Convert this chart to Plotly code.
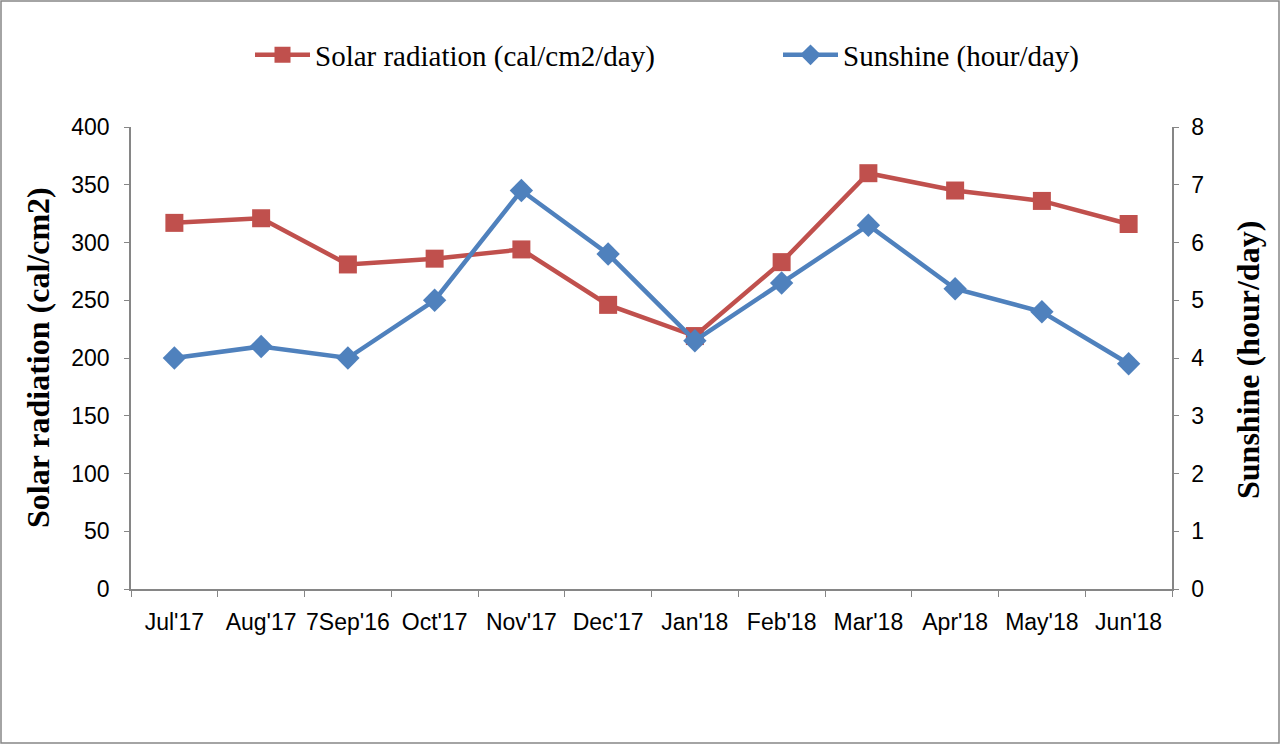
import plotly.graph_objects as go

months = ["Jul'17", "Aug'17", "7Sep'16", "Oct'17", "Nov'17", "Dec'17",
          "Jan'18", "Feb'18", "Mar'18", "Apr'18", "May'18", "Jun'18"]
solar_radiation = [317, 321, 281, 286, 294, 246, 219, 283, 360, 345, 336, 316]
sunshine = [4.0, 4.2, 4.0, 5.0, 6.9, 5.8, 4.3, 5.3, 6.3, 5.2, 4.8, 3.9]

RED = "#C0504D"
BLUE = "#4F81BD"
AXIS = "#868686"
TICKFONT = dict(family="Liberation Sans", size=23, color="black")
TITLEFONT = dict(family="Liberation Serif", size=32, color="black")

W, H = 1280, 744
L, R, T, B = 131, 108, 127, 155
pw, ph = W - L - R, H - T - B


def px_x(p):
    return (p - L) / pw


def px_y(p):
    return (H - B - p) / ph


fig = go.Figure()
fig.add_trace(go.Scatter(
    x=months, y=solar_radiation, name="Solar radiation (cal/cm2/day)",
    mode="lines+markers", legend="legend",
    line=dict(color=RED, width=4.5),
    marker=dict(symbol="square", size=18, color=RED),
))
fig.add_trace(go.Scatter(
    x=months, y=sunshine, name="Sunshine (hour/day)", yaxis="y2",
    mode="lines+markers", legend="legend2",
    line=dict(color=BLUE, width=4.5),
    marker=dict(symbol="diamond", size=18, color=BLUE),
))

legend_common = dict(orientation="h", yanchor="middle", xanchor="left",
                     bgcolor="rgba(0,0,0,0)", itemwidth=55,
                     font=dict(family="Liberation Serif", size=29, color="black"))

fig.update_layout(
    width=W, height=H,
    margin=dict(l=L, r=R, t=T, b=B, autoexpand=False),
    paper_bgcolor="white", plot_bgcolor="white",
    showlegend=True,
    legend=dict(x=px_x(250), y=px_y(55), **legend_common),
    legend2=dict(x=px_x(778), y=px_y(55), **legend_common),
    xaxis=dict(type="category", showline=True, linecolor=AXIS, linewidth=1.5,
               ticks="outside", tickson="boundaries", ticklen=6, tickcolor=AXIS,
               tickfont=TICKFONT, ticklabelstandoff=12, automargin=False, tickangle=0,
               showgrid=False, zeroline=False, range=[-0.5, 11.5]),
    yaxis=dict(range=[0, 400], dtick=50, showline=True, linecolor=AXIS, linewidth=1.5,
               ticks="outside", ticklen=5, tickcolor=AXIS, showgrid=False, zeroline=False,
               tickfont=TICKFONT, ticklabelstandoff=10, automargin=False),
    yaxis2=dict(range=[0, 8], dtick=1, overlaying="y", side="right", showline=True,
                linecolor=AXIS, linewidth=1.5, ticks="outside", ticklen=5, tickcolor=AXIS,
                showgrid=False, zeroline=False, tickfont=TICKFONT, ticklabelstandoff=8,
                automargin=False),
    annotations=[
        dict(text="<b>Solar radiation (cal/cm2)</b>", xref="paper", yref="paper",
             x=px_x(38), y=px_y(358), textangle=-90, showarrow=False,
             xanchor="center", yanchor="middle", font=TITLEFONT),
        dict(text="<b>Sunshine (hour/day)</b>", xref="paper", yref="paper",
             x=px_x(1248), y=px_y(360), textangle=-90, showarrow=False,
             xanchor="center", yanchor="middle", font=TITLEFONT),
    ],
    shapes=[dict(type="rect", xref="paper", yref="paper",
                 x0=px_x(1), x1=px_x(W - 1), y0=px_y(H - 1), y1=px_y(1),
                 line=dict(color=AXIS, width=1.5), fillcolor="rgba(0,0,0,0)", layer="below")],
)

fig.write_html("out.html", config={"displayModeBar": False},
               post_script="document.body.style.margin='0px';document.body.style.overflow='hidden';")
